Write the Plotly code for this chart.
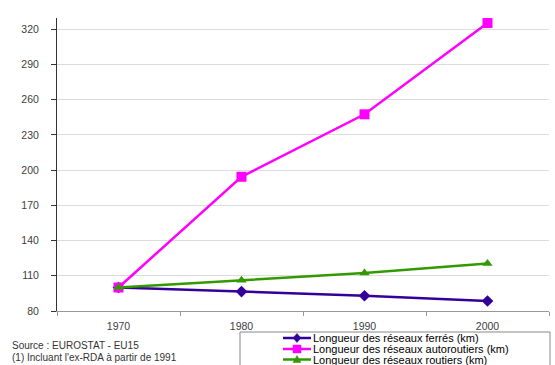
import plotly.graph_objects as go

years = ["1970", "1980", "1990", "2000"]
ferres = [100, 96.5, 93, 88.5]
autoroutiers = [100, 194.3, 247.5, 325.2]
routiers = [100, 106.2, 112.3, 120.5]

series_names = [
    "Longueur des réseaux ferrés (km)",
    "Longueur des réseaux autoroutiers (km)",
    "Longueur des réseaux routiers (km)",
]
colors = ["#330099", "#FF00FF", "#339900"]
symbols = ["diamond", "square", "triangle-up"]
y_ticks = [80, 110, 140, 170, 200, 230, 260, 290, 320]
source_lines = ["Source : EUROSTAT - EU15", "(1) Incluant l'ex-RDA à partir de 1991"]

W, H = 555, 365
L, R, T, B = 57, 549, 18, 311

def px(x):
    return (x - L) / (R - L)

def py(y):
    return (B - y) / (B - T)

FONT = "Arial, Liberation Sans, sans-serif"

fig = go.Figure()
for vals, name, col, sym, msize in zip([ferres, autoroutiers, routiers], series_names,
                                       colors, symbols, [9, 10, 9]):
    fig.add_trace(go.Scatter(
        x=years, y=vals, name=name, mode="lines+markers",
        line=dict(color=col, width=2.5),
        marker=dict(symbol=sym, size=msize, color=col),
        showlegend=False, cliponaxis=False,
    ))

shapes = []
annotations = []

# legend box
shapes.append(dict(type="rect", xref="paper", yref="paper",
                   x0=px(240), x1=px(550), y0=py(372), y1=py(332),
                   line=dict(color="#888888", width=1), fillcolor="white", layer="above"))
rows_y = [338, 349, 359.5]
for ry, name, col, sym in zip(rows_y, series_names, colors, symbols):
    shapes.append(dict(type="line", xref="paper", yref="paper",
                       x0=px(283), x1=px(311), y0=py(ry), y1=py(ry),
                       line=dict(color=col, width=2.5), layer="above"))
    cx, cy, s = 297, ry, 4
    if sym == "diamond":
        pts = [(cx, cy - s - 0.5), (cx + s, cy), (cx, cy + s + 0.5), (cx - s, cy)]
    elif sym == "square":
        pts = [(cx - s, cy - s), (cx + s, cy - s), (cx + s, cy + s), (cx - s, cy + s)]
    else:
        pts = [(cx, cy - s), (cx + s, cy + s - 1), (cx - s, cy + s - 1)]
    path = "M " + " L ".join(f"{px(a):.5f},{py(b):.5f}" for a, b in pts) + " Z"
    shapes.append(dict(type="path", xref="paper", yref="paper", path=path,
                       fillcolor=col, line=dict(color=col, width=0.5), layer="above"))
    annotations.append(dict(text=name, xref="paper", yref="paper",
                            x=px(311), y=py(ry), xanchor="left", yanchor="middle",
                            showarrow=False, font=dict(family=FONT, size=11, color="#000000")))

for i, line in enumerate(source_lines):
    annotations.append(dict(text=line, xref="paper", yref="paper",
                            x=px(10), y=py(345 + 12 * i), xanchor="left", yanchor="middle",
                            showarrow=False, font=dict(family=FONT, size=10, color="#333333")))

fig.update_layout(
    width=W, height=H,
    margin=dict(l=L, r=W - R, t=T, b=H - B),
    paper_bgcolor="white", plot_bgcolor="white",
    font=dict(family=FONT, size=11, color="#404040"),
    shapes=shapes, annotations=annotations,
    xaxis=dict(type="category", range=[-0.5, 3.5], tickson="boundaries",
               ticks="outside", ticklen=4, tickcolor="#999999",
               showline=True, linecolor="#999999", linewidth=1, ticklabelstandoff=5,
               showgrid=False, tickfont=dict(size=10.5, color="#404040"), fixedrange=True),
    yaxis=dict(range=[80, 329.5], tickvals=y_ticks, ticks="outside", ticklen=5,
               tickcolor="#333333", showline=True, linecolor="#333333", linewidth=1,
               showgrid=True, gridcolor="#dcdcdc", gridwidth=1, zeroline=False,
               ticklabelstandoff=10, tickfont=dict(size=10.5, color="#404040")),
)

fig.write_html("out.html")
